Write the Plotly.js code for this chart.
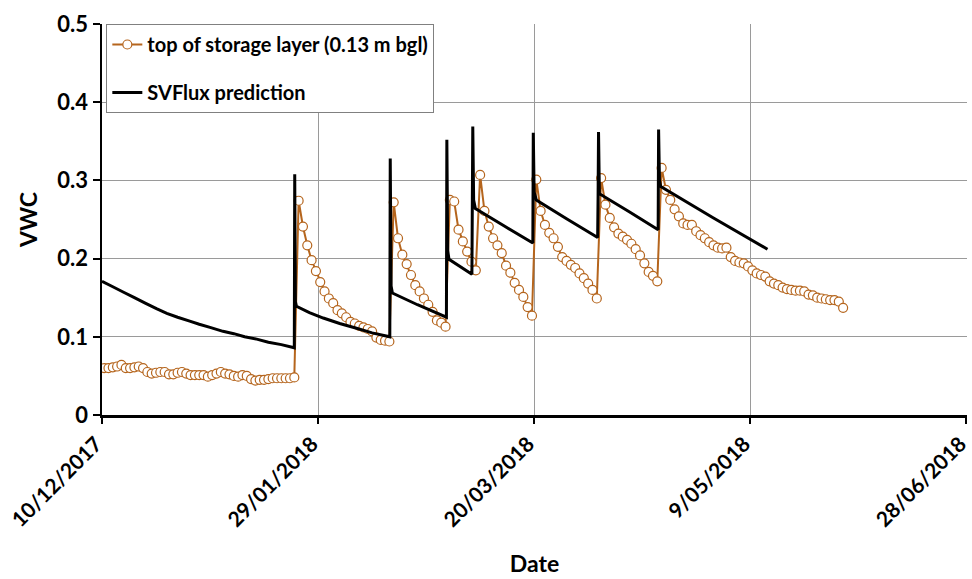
<!DOCTYPE html>
<html>
<head>
<meta charset="utf-8">
<script src="https://cdn.plot.ly/plotly-3.0.1.min.js"></script>
<style>
  html, body { margin: 0; padding: 0; background: #ffffff; }
  #chart { width: 972px; height: 579px; }
</style>
</head>
<body>
<div id="chart"></div>
<script>
// ---- Data ----
// Observed VWC, one reading per day starting 10/12/2017 (day index 0)
const obsVWC = [
  0.060, 0.060, 0.061, 0.062, 0.064, 0.060, 0.060, 0.061, 0.062, 0.060,
  0.055, 0.053, 0.054, 0.055, 0.055, 0.052, 0.052, 0.054, 0.055, 0.053,
  0.051, 0.051, 0.051, 0.051, 0.049, 0.051, 0.053, 0.055, 0.053, 0.052,
  0.050, 0.049, 0.051, 0.050, 0.046, 0.044, 0.045, 0.045, 0.046, 0.047,
  0.047, 0.047, 0.047, 0.047, 0.048,
  0.274, 0.241, 0.217, 0.198, 0.184, 0.170, 0.158, 0.149, 0.143, 0.134,
  0.130, 0.125, 0.119, 0.117, 0.114, 0.112, 0.110, 0.107, 0.099, 0.096,
  0.095, 0.094,
  0.272, 0.226, 0.205, 0.193, 0.179, 0.166, 0.158, 0.149, 0.141, 0.132,
  0.121, 0.118, 0.113,
  0.275, 0.273, 0.237, 0.222, 0.209, 0.196, 0.185,
  0.307, 0.261, 0.241, 0.226, 0.217, 0.207, 0.191, 0.182, 0.169, 0.160,
  0.151, 0.138, 0.127,
  0.301, 0.261, 0.243, 0.233, 0.226, 0.215, 0.202, 0.197, 0.192, 0.188,
  0.181, 0.175, 0.168, 0.160, 0.149,
  0.303, 0.269, 0.252, 0.240, 0.232, 0.228, 0.224, 0.219, 0.212, 0.204,
  0.194, 0.183, 0.178, 0.171,
  0.316, 0.288, 0.275, 0.263, 0.254, 0.245, 0.243, 0.243, 0.235, 0.230,
  0.226, 0.221, 0.217, 0.214, 0.213, 0.214, 0.202, 0.197, 0.195, 0.194,
  0.190, 0.185, 0.181, 0.179, 0.177, 0.171, 0.168, 0.166, 0.163, 0.161,
  0.160, 0.159, 0.159, 0.158, 0.154, 0.153, 0.150, 0.149, 0.148, 0.147,
  0.147, 0.145, 0.137
];

// SVFlux prediction: time in days since 10/12/2017 and VWC
const simDay = [
  0, 2.5, 5, 7.5, 10, 12.6, 15, 17.5, 20.3, 22.5, 25, 28, 30.5, 33, 35.8, 38.5, 41.5, 44.5,
  44.6, 44.75, 45, 48, 51.2, 55, 58.9, 62.5, 66.6,
  66.7, 66.9, 67.2, 73, 79.7,
  79.8, 80.0, 80.3, 85.6,
  85.8, 86.0, 86.4, 93, 99.7,
  99.8, 100.0, 100.5, 107.5, 114.7,
  114.8, 114.9, 115.1, 122, 128.7,
  128.8, 129.0, 129.3, 141.5, 154.0
];
const simVWC = [
  0.171, 0.164, 0.157, 0.150, 0.143, 0.136, 0.130, 0.125, 0.120, 0.116, 0.112, 0.107, 0.104, 0.100, 0.097, 0.093, 0.090, 0.086,
  0.308, 0.145, 0.139, 0.131, 0.124, 0.117, 0.111, 0.105, 0.100,
  0.328, 0.165, 0.156, 0.141, 0.125,
  0.352, 0.210, 0.199, 0.180,
  0.369, 0.275, 0.264, 0.242, 0.220,
  0.361, 0.285, 0.275, 0.251, 0.227,
  0.281, 0.362, 0.283, 0.260, 0.237,
  0.365, 0.300, 0.292, 0.252, 0.212
];

const xTickDates = ['2017-12-10', '2018-01-29', '2018-03-20', '2018-05-09', '2018-06-28'];
const xTickLabels = ['10/12/2017', '29/01/2018', '20/03/2018', '9/05/2018', '28/06/2018'];
const yTickVals = [0, 0.1, 0.2, 0.3, 0.4, 0.5];
const yTickLabels = ['0', '0.1', '0.2', '0.3', '0.4', '0.5'];

const seriesNames = ['top of storage layer (0.13 m bgl)', 'SVFlux prediction'];

// ---- helpers ----
const startMs = Date.UTC(2017, 11, 10, 0, 0, 0);
const DAY = 86400000;
function dayToDate(d) {
  return new Date(startMs + d * DAY).toISOString().replace('T', ' ').replace('Z', '');
}
const obsX = obsVWC.map((v, i) => dayToDate(i + 0.5));
const simX = simDay.map(dayToDate);

const FONT = 'Lato, "DejaVu Sans", sans-serif';
const orange = '#B5651D';

const traces = [
  {
    x: obsX, y: obsVWC, name: seriesNames[0], type: 'scatter', mode: 'lines+markers',
    line: { color: orange, width: 2 },
    marker: { symbol: 'circle', size: 9, color: '#ffffff', line: { color: orange, width: 1.2 } },
    legendgroup: 'a'
  },
  {
    x: simX, y: simVWC, name: seriesNames[1], type: 'scatter', mode: 'lines',
    line: { color: '#000000', width: 3, simplify: false },
    legendgroup: 'b'
  }
];

const layout = {
  width: 972, height: 579,
  margin: { l: 102, r: 5, t: 24, b: 164, pad: 0 },
  paper_bgcolor: '#ffffff', plot_bgcolor: '#ffffff',
  font: { family: FONT, size: 22, color: '#000000', weight: 'bold' },
  showlegend: true,
  legend: {
    x: 0.005, y: 1, xanchor: 'left', yanchor: 'top',
    bgcolor: '#ffffff', bordercolor: '#808080', borderwidth: 1,
    font: { family: FONT, size: 20, color: '#000000', weight: 'bold' },
    traceorder: 'grouped', tracegroupgap: 19,
    itemwidth: 30
  },
  xaxis: {
    type: 'date',
    range: ['2017-12-10', '2018-06-28 04:00'],
    tickmode: 'array', tickvals: xTickDates, ticktext: xTickLabels,
    tickangle: -45, ticklabeloverflow: 'allow', ticklabelshift: -6,
    tickfont: { family: FONT, size: 21, color: '#000000', weight: 'bold' },
    ticks: 'outside', ticklen: 6, tickwidth: 2, tickcolor: '#000000',
    showline: true, linecolor: '#000000', linewidth: 2.5,
    showgrid: true, gridcolor: '#9a9a9a', gridwidth: 1,
    zeroline: false, automargin: false,
    title: { text: 'Date', font: { family: FONT, size: 23, color: '#000000', weight: 'bold' }, standoff: 26 }
  },
  yaxis: {
    range: [0, 0.5],
    tickmode: 'array', tickvals: yTickVals, ticktext: yTickLabels,
    tickfont: { family: FONT, size: 22, color: '#000000', weight: 'bold' },
    ticks: 'outside', ticklen: 7, tickwidth: 2, tickcolor: '#000000',
    showline: true, linecolor: '#000000', linewidth: 2.5,
    showgrid: true, gridcolor: '#9a9a9a', gridwidth: 1,
    zeroline: false, automargin: false,
    title: { text: 'VWC', font: { family: FONT, size: 23, color: '#000000', weight: 'bold' }, standoff: 14 }
  }
};

Plotly.newPlot('chart', traces, layout, { displayModeBar: false, staticPlot: true });
</script>
</body>
</html>
